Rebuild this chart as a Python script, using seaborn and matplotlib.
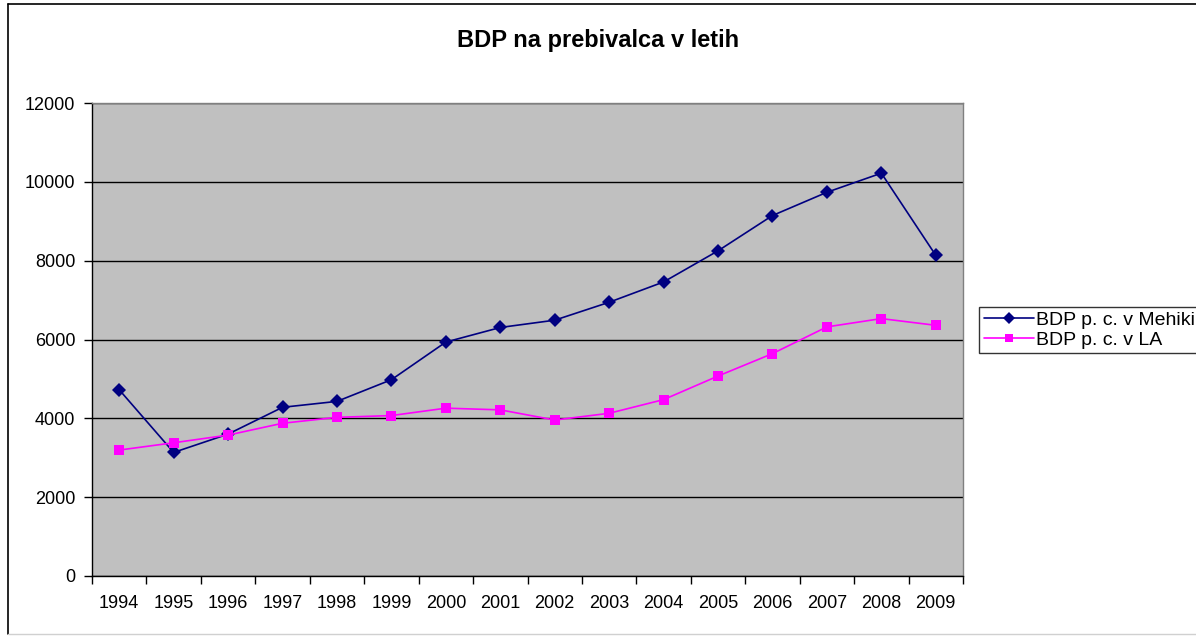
import pandas as pd
import seaborn as sns
import matplotlib.pyplot as plt
from matplotlib.ticker import FixedLocator, NullFormatter
from matplotlib.lines import Line2D

years = [str(y) for y in range(1994, 2010)]
mehika = [4725, 3135, 3600, 4280, 4430, 4980, 5935, 6305, 6490, 6945,
          7460, 8250, 9145, 9735, 10220, 8135]
la = [3195, 3380, 3575, 3875, 4025, 4070, 4258, 4215, 3957, 4128,
      4475, 5073, 5642, 6320, 6530, 6360]
labels = ["BDP p. c. v Mehiki", "BDP p. c. v LA"]

df = pd.DataFrame({"leto": years * 2,
                   "bdp": mehika + la,
                   "serija": [labels[0]] * 16 + [labels[1]] * 16})

sns.set_style("white", rc={"text.color": "black", "xtick.color": "black",
                           "ytick.color": "black", "axes.labelcolor": "black"})
plt.rcParams["font.family"] = ["Liberation Sans", "DejaVu Sans"]

fig = plt.figure(figsize=(11.96, 6.36), dpi=100)
ax = fig.add_axes([92 / 1196, 1 - 576 / 636, 871 / 1196, 473 / 636])

sns.lineplot(data=df, x="leto", y="bdp", hue="serija", style="serija",
             palette=["#000080", "#FF00FF"], markers=["D", "s"], dashes=False,
             markersize=7, linewidth=1.2, markeredgewidth=0, ax=ax, legend=False)

ax.set_facecolor("#C0C0C0")
ax.set_xlim(-0.5, 15.5)
ax.set_ylim(0, 12000)
ax.set_yticks(range(0, 12001, 2000))
ax.yaxis.grid(True, color="#000000", linewidth=1)
ax.set_axisbelow(True)
ax.set_xlabel("")
ax.set_ylabel("")

# tick marks between categories, labels at category centres
ax.tick_params(axis="x", which="major", length=0, labelsize=13, pad=14)
ax.xaxis.set_minor_locator(FixedLocator([i - 0.5 for i in range(17)]))
ax.xaxis.set_minor_formatter(NullFormatter())
ax.tick_params(axis="x", which="minor", length=6, width=1, color="black",
               bottom=True, direction="out")
ax.tick_params(axis="y", length=6, width=1, color="black", left=True,
               labelsize=13, pad=6)

for s in ["left", "bottom"]:
    ax.spines[s].set_color("black")
    ax.spines[s].set_linewidth(1)
for s in ["top", "right"]:
    ax.spines[s].set_color("#808080")
    ax.spines[s].set_linewidth(1)

fig.text(0.5, 1 - 41 / 636, "BDP na prebivalca v letih", ha="center",
         va="center", fontsize=17, fontweight="bold", color="black")

handles = [Line2D([], [], color="#000080", marker="D", markersize=6,
                  markeredgewidth=0, linewidth=1.2),
           Line2D([], [], color="#FF00FF", marker="s", markersize=6,
                  markeredgewidth=0, linewidth=1.2)]
leg = fig.legend(handles, labels, loc="center left",
                 bbox_to_anchor=(979 / 1196, 1 - 330 / 636), fontsize=14,
                 frameon=True, fancybox=False, edgecolor="black",
                 handlelength=2.6, handletextpad=0.1, borderpad=0.25,
                 labelspacing=0.1, borderaxespad=0)
leg.get_frame().set_linewidth(1)

# outer chart border
fig.add_artist(Line2D([8 / 1196, 8 / 1196], [1 - 634 / 636, 1 - 4 / 636],
                      color="black", linewidth=1.2, transform=fig.transFigure))
fig.add_artist(Line2D([8 / 1196, 1], [1 - 4 / 636, 1 - 4 / 636],
                      color="black", linewidth=1.2, transform=fig.transFigure))
fig.add_artist(Line2D([8 / 1196, 1], [1 - 634 / 636, 1 - 634 / 636],
                      color="#D0D0D0", linewidth=1, transform=fig.transFigure))

fig.savefig("out.png", dpi=100)
